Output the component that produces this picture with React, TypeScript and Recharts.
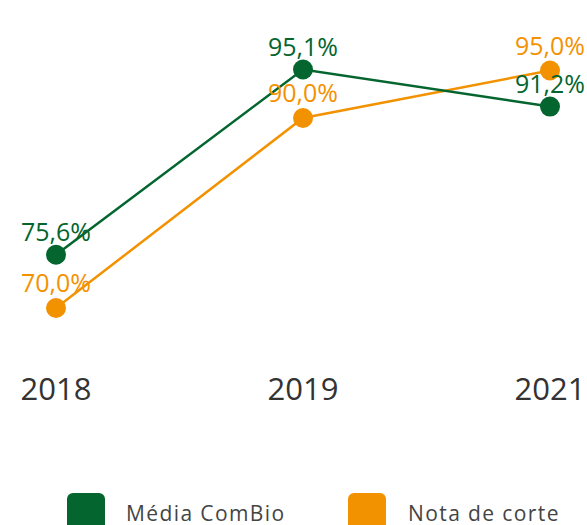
import React from "react";
import { LineChart, Line, XAxis, YAxis, LabelList } from "recharts";

const years = ["2018", "2019", "2021"];
const mediaComBio = [75.6, 95.1, 91.2];
const notaDeCorte = [70.0, 90.0, 95.0];
const seriesNames = ["Média ComBio", "Nota de corte"];
const GREEN = "#04652f";
const ORANGE = "#f39200";
const FONT = "'Open Sans', sans-serif";

const data = years.map((y, i) => ({
  year: y,
  media: mediaComBio[i],
  nota: notaDeCorte[i],
}));

const fmt = (v: any) => Number(v).toFixed(1).replace(".", ",") + "%";

const legendText: React.CSSProperties = {
  position: "absolute",
  top: 502,
  fontSize: 21,
  letterSpacing: 1.4,
  lineHeight: "22px",
  color: "#444444",
  whiteSpace: "nowrap",
};

export default function App() {
  return (
    <div style={{ position: "absolute", left: 0, top: 0, width: 587, height: 525, background: "#fff", overflow: "hidden", fontFamily: FONT }}>
      <LineChart
        width={587}
        height={525}
        data={data}
        margin={{ top: 23, right: 37, left: 56, bottom: 0 }}
      >
        <XAxis
          dataKey="year"
          axisLine={false}
          tickLine={false}
          tickSize={0}
          tickMargin={13}
          height={160}
          interval={0}
          padding={{ left: 0, right: 0 }}
          tick={{ fontSize: 31, fill: "#333333", fontFamily: FONT }}
        />
        <YAxis hide domain={[64, 100]} />
        <Line
          dataKey="nota"
          stroke={ORANGE}
          strokeWidth={2.5}
          dot={{ r: 10, fill: ORANGE, stroke: "none" }}
          activeDot={false}
          isAnimationActive={false}
        >
          <LabelList dataKey="nota" position="top" offset={16} formatter={fmt} style={{ fontSize: 25, fill: ORANGE, fontFamily: FONT }} />
        </Line>
        <Line
          dataKey="media"
          stroke={GREEN}
          strokeWidth={2.5}
          dot={{ r: 10, fill: GREEN, stroke: "none" }}
          activeDot={false}
          isAnimationActive={false}
        >
          <LabelList dataKey="media" position="top" offset={14} formatter={fmt} style={{ fontSize: 25, fill: GREEN, fontFamily: FONT }} />
        </Line>
      </LineChart>
      <div style={{ position: "absolute", left: 67, top: 493, width: 38, height: 38, borderRadius: 6, background: GREEN }} />
      <div style={{ ...legendText, left: 126 }}>{seriesNames[0]}</div>
      <div style={{ position: "absolute", left: 348, top: 493, width: 38, height: 38, borderRadius: 6, background: ORANGE }} />
      <div style={{ ...legendText, left: 408 }}>{seriesNames[1]}</div>
    </div>
  );
}
